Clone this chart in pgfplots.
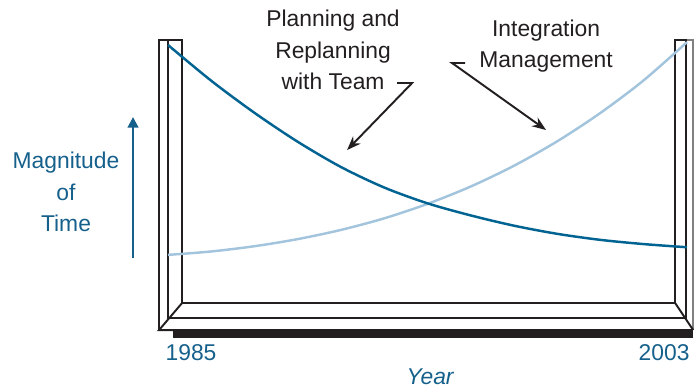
\documentclass[border=0pt]{standalone}
\usepackage{pgfplots}
\pgfplotsset{compat=1.18}
\usepackage{fontspec}
\setmainfont{Liberation Sans}
\usetikzlibrary{arrows.meta}
\definecolor{darkblue}{RGB}{0,99,145}
\definecolor{lightblue}{RGB}{163,196,221}
\definecolor{textblue}{RGB}{22,96,140}
\definecolor{framegray}{RGB}{35,31,32}

\begin{document}
\begin{tikzpicture}
% frame and labels, in pixel units of the 695x389 picture (y down)
\begin{scope}[x=0.02cm, y=-0.02cm, line width=1.1pt, framegray]
  \draw (159,330) -- (159,40) -- (182,40) -- (182,303) -- (675,303) -- (675,40) -- (687,40);
  \draw (168,40) -- (168,318) -- (686,318) -- (686,40);
  \draw[gray] (687,40) -- (693,40) -- (693,330);
  \draw (182,303) -- (159,330) -- (173,330);
  \draw (675,303) -- (693,330);
  \fill (173,329) rectangle (693,338);
  \draw[-{Stealth[length=8pt,width=6pt]}] (397,83) -- (412,83) -- (347,150);
  \draw[-{Stealth[length=8pt,width=6pt]}] (465,63) -- (452,63) -- (546,130);
  \draw[textblue, line width=1.3pt, -{Triangle[length=6pt,width=6pt]}] (133,258) -- (133,117);
  \begin{scope}[every node/.style={font=\fontsize{13}{18}\selectfont, align=center}]
    \node[framegray] at (333,50) {Planning and\\Replanning\\with Team};
    \node[framegray] at (546,46) {Integration\\Management};
    \node[textblue] at (66,192) {Magnitude\\of\\Time};
    \node[textblue] at (191,353) {1985};
    \node[textblue] at (664,353) {2003};
    \node[textblue, font=\fontsize{13}{18}\selectfont\itshape] at (430,377) {Year};
  \end{scope}
\end{scope}
\begin{axis}[
  at={(0,0)}, anchor=north west,
  scale only axis, width=13.9cm, height=7.78cm,
  xmin=1979.173, xmax=2003.277, ymin=-32.70, ymax=115.21,
  hide axis, clip=false,
]
% Integration Management
\addplot[lightblue, line width=1.4pt, smooth] coordinates {
  (1985.0,18.3)(1986.5,19.6)(1988.0,21.6)(1989.5,24.3)(1991.0,27.8)
  (1992.5,32.2)(1994.0,37.7)(1995.5,44.3)(1997.0,52.2)(1998.5,61.5)
  (2000.0,72.3)(2001.5,84.7)(2003.0,99.2)};
% Planning and Replanning with Team
\addplot[darkblue, line width=1.4pt, smooth] coordinates {
  (1985.0,98.1)(1986.5,84.5)(1988.0,72.3)(1989.5,61.3)(1991.0,51.7)
  (1992.5,43.9)(1994.0,37.9)(1995.5,33.3)(1997.0,29.4)(1998.5,26.3)
  (2000.0,24.0)(2001.5,22.4)(2003.0,21.2)};
\end{axis}
\pgfresetboundingbox
\path (0,0) rectangle (13.9cm,-7.78cm);
\end{tikzpicture}
\end{document}
